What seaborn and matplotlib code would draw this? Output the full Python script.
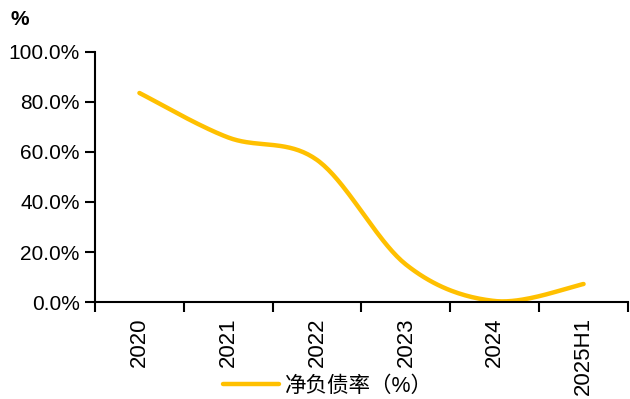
import numpy as np
import pandas as pd
import matplotlib
matplotlib.use("Agg")
import matplotlib.pyplot as plt
import seaborn as sns
from matplotlib.ticker import FuncFormatter, FixedLocator

# Net debt ratio by period
periods = ["2020", "2021", "2022", "2023", "2024", "2025H1"]
net_debt_ratio = [83.6, 65.8, 56.8, 15.0, 0.4, 7.2]
series_name = "净负债率（%）"
y_ticks = [0, 20, 40, 60, 80, 100]

sns.set_theme(style="ticks")
plt.rcParams["font.family"] = ["Liberation Sans", "Noto Sans CJK SC", "DejaVu Sans"]
plt.rcParams["text.color"] = "black"
plt.rcParams["xtick.color"] = "black"
plt.rcParams["ytick.color"] = "black"
plt.rcParams["xtick.labelcolor"] = "black"
plt.rcParams["ytick.labelcolor"] = "black"


def smooth_curve(xs, ys, steps=40):
    """Bezier smoothing through every point (Catmull-Rom style control points)."""
    xs = np.asarray(xs, float)
    ys = np.asarray(ys, float)
    px = np.concatenate([[xs[0]], xs, [xs[-1]]])
    py = np.concatenate([[ys[0]], ys, [ys[-1]]])
    out_x, out_y = [], []
    t = np.linspace(0, 1, steps)
    for i in range(1, len(px) - 2):
        p0 = np.array([px[i], py[i]])
        p3 = np.array([px[i + 1], py[i + 1]])
        c1 = p0 + (np.array([px[i + 1], py[i + 1]]) - np.array([px[i - 1], py[i - 1]])) / 6
        c2 = p3 - (np.array([px[i + 2], py[i + 2]]) - np.array([px[i], py[i]])) / 6
        seg = ((1 - t) ** 3)[:, None] * p0 + (3 * (1 - t) ** 2 * t)[:, None] * c1 \
            + (3 * (1 - t) * t ** 2)[:, None] * c2 + (t ** 3)[:, None] * p3
        out_x.extend(seg[:, 0])
        out_y.extend(seg[:, 1])
    return np.array(out_x), np.array(out_y)


positions = np.arange(len(periods))
cx, cy = smooth_curve(positions, net_debt_ratio)
curve = pd.DataFrame({"x": cx, "y": cy, "series": series_name})

fig = plt.figure(figsize=(6.3, 3.99), dpi=100)
ax = fig.add_axes([0.1508, 0.2431, 0.8460, 0.6266])

sns.lineplot(data=curve, x="x", y="y", hue="series", palette=["#FFC000"],
             linewidth=3.2, sort=False, ax=ax, legend=True)

ax.set_xlim(-0.5, len(periods) - 0.5)
ax.set_ylim(0, 100)

# Category labels centred in each band, ticks on band boundaries
ax.xaxis.set_major_locator(FixedLocator(np.arange(-0.5, len(periods), 1.0)))
ax.set_xticklabels([])
ax.xaxis.set_minor_locator(FixedLocator(positions))
ax.set_xticklabels(periods, minor=True, rotation=90, fontsize=16)
ax.tick_params(axis="x", which="major", length=7, width=1.5, direction="out", color="black")
ax.tick_params(axis="x", which="minor", length=0, pad=11)

ax.yaxis.set_major_locator(FixedLocator(y_ticks))
ax.yaxis.set_major_formatter(FuncFormatter(lambda v, _: f"{v:.1f}%"))
ax.tick_params(axis="y", length=7, width=1.5, direction="out", color="black",
               labelsize=15, pad=4)

for side in ["top", "right"]:
    ax.spines[side].set_visible(False)
for side in ["left", "bottom"]:
    ax.spines[side].set_linewidth(1.5)
    ax.spines[side].set_color("black")

ax.set_xlabel("")
ax.set_ylabel("")
fig.text(0.016, 0.952, "%", fontsize=15, fontweight="bold", ha="left", va="center")

handles, labels = ax.get_legend_handles_labels()
ax.legend(handles, labels, loc="center left", bbox_to_anchor=(0.333, 0.032),
          bbox_transform=fig.transFigure, frameon=False, fontsize=15.5,
          handlelength=2.6, handletextpad=0.3, borderpad=0.1)

fig.savefig("out.png", dpi=100)
